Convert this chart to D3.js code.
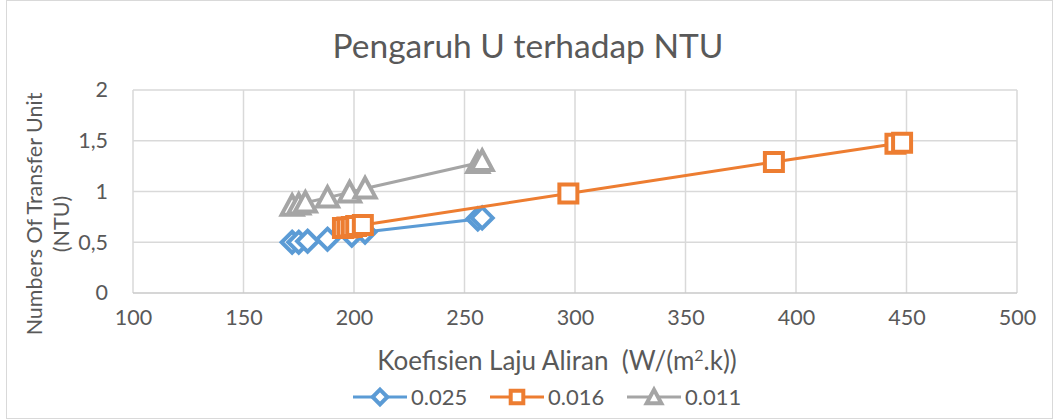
<!DOCTYPE html>
<html>
<head>
    <meta charset="utf-8">
    <title>Pengaruh U terhadap NTU</title>
    <script src="https://d3js.org/d3.v7.min.js"></script>
    <style>
        body { margin: 0; background: #fff; }
        text { font-family: Lato, "Open Sans", sans-serif; fill: #595959; }
    </style>
</head>
<body>
    <script>
        // Data
        const seriesNames = ["0.025", "0.016", "0.011"];
        const blueX = [172, 175, 179, 188, 199, 205, 256, 258];
        const blueY = [0.50, 0.50, 0.51, 0.53, 0.57, 0.60, 0.73, 0.74];
        const orangeX = [195, 197, 199, 201, 204, 297, 390, 445, 448];
        const orangeY = [0.64, 0.645, 0.65, 0.66, 0.67, 0.98, 1.29, 1.47, 1.48];
        const grayX = [172, 175, 178, 188, 198, 205, 256, 258];
        const grayY = [0.86, 0.87, 0.89, 0.94, 0.99, 1.03, 1.28, 1.30];
        const xTicks = [100, 150, 200, 250, 300, 350, 400, 450, 500];
        const yTicks = [0, 0.5, 1, 1.5, 2];

        const colors = ["#5b9bd5", "#ed7d31", "#a5a5a5"];
        const shapes = ["diamond", "square", "triangle"];

        const series = [
            { name: seriesNames[0], pts: blueX.map((x, i) => [x, blueY[i]]) },
            { name: seriesNames[1], pts: orangeX.map((x, i) => [x, orangeY[i]]) },
            { name: seriesNames[2], pts: grayX.map((x, i) => [x, grayY[i]]) }
        ];

        const W = 1054, H = 420;
        const svg = d3.select("body").append("svg")
            .attr("width", W).attr("height", H);

        // chart border
        svg.append("rect")
            .attr("x", 6.5).attr("y", 0.5)
            .attr("width", W - 8).attr("height", H - 2)
            .attr("fill", "none").attr("stroke", "#d9d9d9");

        const x = d3.scaleLinear().domain([100, 500]).range([133, 1017]);
        const y = d3.scaleLinear().domain([0, 2]).range([293, 90]);

        // gridlines
        svg.append("g").selectAll("line").data(yTicks.filter(d => d > 0)).enter()
            .append("line")
            .attr("x1", x(100)).attr("x2", x(500))
            .attr("y1", d => y(d)).attr("y2", d => y(d))
            .attr("stroke", "#d9d9d9").attr("stroke-width", 1.5);
        svg.append("g").selectAll("line").data(xTicks).enter()
            .append("line")
            .attr("x1", d => x(d)).attr("x2", d => x(d))
            .attr("y1", y(0)).attr("y2", y(2))
            .attr("stroke", "#d9d9d9").attr("stroke-width", 1.5);
        svg.append("line")
            .attr("x1", x(100)).attr("x2", x(500))
            .attr("y1", y(0)).attr("y2", y(0))
            .attr("stroke", "#c8c8c8").attr("stroke-width", 1.5);

        // axes (labels only)
        const xAxis = svg.append("g")
            .attr("transform", `translate(0,${y(0) + 14})`)
            .call(d3.axisBottom(x).tickValues(xTicks).tickSize(0).tickFormat(d3.format("d")));
        xAxis.select(".domain").remove();
        xAxis.selectAll("text").style("font-size", "21.5px").attr("fill", "#595959");

        const yAxis = svg.append("g")
            .attr("transform", `translate(${x(100) - 22},0)`)
            .call(d3.axisLeft(y).tickValues(yTicks).tickSize(0)
                .tickFormat(d => String(d).replace(".", ",")));
        yAxis.select(".domain").remove();
        yAxis.selectAll("text").style("font-size", "21.5px").attr("fill", "#595959");

        // titles
        svg.append("text")
            .attr("x", 528).attr("y", 58)
            .attr("text-anchor", "middle")
            .style("font-size", "33.5px")
            .text("Pengaruh U terhadap NTU");

        const xt = svg.append("text")
            .attr("x", 557).attr("y", 370)
            .attr("text-anchor", "middle")
            .style("font-size", "26px");
        xt.append("tspan").text("Koefisien Laju Aliran\u00a0\u00a0(W/(m");
        xt.append("tspan").attr("dy", -9).style("font-size", "16px").text("2");
        xt.append("tspan").attr("dy", 9).text(".k))");

        svg.append("text")
            .attr("transform", "translate(42,214) rotate(-90)")
            .attr("text-anchor", "middle")
            .style("font-size", "21.5px")
            .text("Numbers Of Transfer Unit");
        svg.append("text")
            .attr("transform", "translate(69,224) rotate(-90)")
            .attr("text-anchor", "middle")
            .style("font-size", "21.5px")
            .text("(NTU)");

        // marker path centred on 0,0
        function marker(shape, s) {
            if (shape === "diamond") return `M0,${-s}L${s},0L0,${s}L${-s},0Z`;
            if (shape === "square") return `M${-s},${-s}H${s}V${s}H${-s}Z`;
            return `M0,${-s}L${s},${s * 0.85}H${-s}Z`;
        }
        const sizes = { diamond: 10.5, square: 9, triangle: 10.5 };

        const line = d3.line().x(d => x(d[0])).y(d => y(d[1]));

        series.forEach((s, i) => {
            const g = svg.append("g");
            g.append("path")
                .attr("d", line(s.pts))
                .attr("fill", "none")
                .attr("stroke", colors[i])
                .attr("stroke-width", 3);
            g.selectAll("path.m").data(s.pts).enter()
                .append("path")
                .attr("class", "m")
                .attr("transform", d => `translate(${x(d[0])},${y(d[1])})`)
                .attr("d", marker(shapes[i], sizes[shapes[i]]))
                .attr("fill", "#fff")
                .attr("stroke", colors[i])
                .attr("stroke-width", 4)
                .attr("stroke-linejoin", "miter");
        });

        // legend
        const legendX = [353, 490, 627];
        const legend = svg.append("g").attr("transform", "translate(0,397)");
        series.forEach((s, i) => {
            const g = legend.append("g").attr("transform", `translate(${legendX[i]},0)`);
            g.append("line").attr("x1", 0).attr("x2", 54)
                .attr("stroke", colors[i]).attr("stroke-width", 3);
            g.append("path")
                .attr("transform", "translate(27,0)")
                .attr("d", marker(shapes[i], sizes[shapes[i]] * 0.7))
                .attr("fill", "#fff")
                .attr("stroke", colors[i])
                .attr("stroke-width", 4);
            g.append("text")
                .attr("x", 58).attr("y", 8)
                .style("font-size", "22px")
                .text(s.name);
        });
    </script>
</body>
</html>
